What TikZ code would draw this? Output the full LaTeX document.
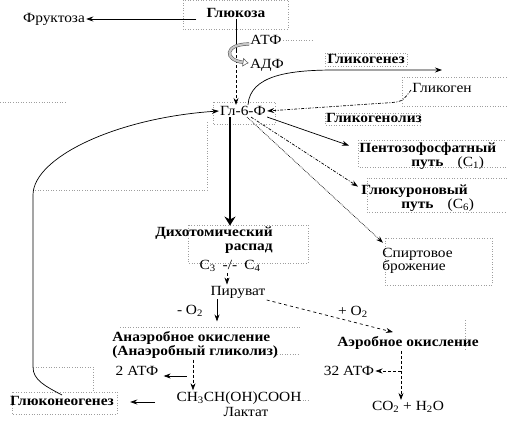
\documentclass[tikz,border=0pt]{standalone}
\usepackage{fontspec}
\setmainfont{Liberation Serif}[FakeStretch=1.1]
\usepackage{tikz}
\usetikzlibrary{positioning}
\usetikzlibrary{arrows}
\usetikzlibrary{arrows.meta}
\definecolor{framegray}{rgb}{0.62,0.62,0.62}

\begin{document}
\begin{tikzpicture}[
            x = 1pt, y = -1pt, % pixel grid, y downwards
            > = {Stealth[length=7pt,width=5pt]}, % arrow head style
            line width = 0.7pt,
            font = \fontsize{14}{13.5}\selectfont
        ]

        \tikzstyle{every node}=[inner sep = 1pt]
        \tikzstyle{bld}=[font = \fontsize{14}{13.5}\selectfont\bfseries]
        \tikzstyle{frame}=[draw = framegray, dotted, line width = 0.6pt]

        \useasboundingbox (0,0) rectangle (507,423);

        % text frames
        \foreach \a/\b in {{183,0}/{288,29}, {213,102}/{275,124}, {325,53}/{407,66},
                           {402,77}/{507,106}, {325,113}/{420,125}, {358,140}/{507,167},
                           {367,178}/{507,212}, {385,238}/{492,285}, {188,225}/{308,263},
                           {12,392}/{117,414}}
            \draw[frame] (\a) rectangle (\b);
        \draw[frame] (0,102) -- (67,102);
        \draw[frame] (207,122) -- (207,190) -- (33,190);
        \draw[frame] (33,367) -- (93,367) -- (93,392);
        \draw[frame] (120,327) -- (300,327);
        \draw[frame] (277,354) -- (300,354);
        \draw[frame] (300,400) -- (310,400);
        \draw[frame] (465,320) -- (465,350);
        \draw[frame] (283,40) -- (312,40);

        % upper level
        \node (fru) at (54,19) {Фруктоза};
        \node[bld] (glu) at (236,13) {Глюкоза};
        \node (atf) at (266,40) {АТФ};
        \node (adf) at (267,65) {АДФ};
        \node (g6f) at (243,111) {Гл-6-Ф};
        \coordinate (bend) at (236,50);
        \coordinate (gzend) at (442,70);

        \draw[->] ([xshift=-9pt,yshift=-6pt]glu.west) -- (fru.east);
        \draw (glu.south) -- (bend);
        \draw[densely dashed,->] (bend) -- (glu.south |- g6f.north);
        \draw[draw=black!70, line width=0.5pt, double=gray!45, double distance=2.2pt,
              -{Latex[open,length=6pt,width=9pt]}]
            ([yshift=-4pt]atf.west) .. controls (224,44) and (224,60) .. ([yshift=2pt]adf.west);

        % glycogen
        \node[bld] (glgz) at (366,59) {Гликогенез};
        \node (glgn) at (442,88) {Гликоген};
        \node[bld] (glgl) at (374,118) {Гликогенолиз};

        \draw[->] ([xshift=5pt]g6f.north) .. controls (250,75) and (290,70) .. (335,70) -- (gzend);
        \draw[dash pattern=on 3pt off 1.5pt on 1pt off 1.5pt,->]
            ([yshift=-2pt]glgn.west) .. controls (402,102) .. (385,103) -- (g6f.east);

        % side ways
        \node[bld, align=left, anchor=west] (pfp) at (358,156)
            {Пентозофосфатный\\\hspace*{52pt}путь\quad{\mdseries(C\textsubscript{1})}};
        \node[bld, align=left, anchor=west] (gkp) at (360,198)
            {Глюкуроновый\\\hspace*{40pt}путь\quad{\mdseries(C\textsubscript{6})}};
        \node[align=left, anchor=west] (spb) at (381,261) {Спиртовое\\брожение};

        \draw[->] (g6f.south east) -- ([shift={(-9,4)}]pfp.north west);
        \draw[dash pattern=on 3pt off 1.5pt on 1pt off 1.5pt,->]
            ([xshift=8pt]g6f.south) -- ([shift={(-2,3)}]gkp.north west);
        \draw[densely dotted,->] ([xshift=4pt]g6f.south) -- ([shift={(2,-4)}]spb.north west);

        % glycolysis
        \node[bld, align=right, anchor=east] (dix) at (274,240) {Дихотомический\\распад};
        \node (cc) at (230,266) {C\textsubscript{3}\enspace-/-\enspace C\textsubscript{4}};
        \node (pir) at (238,292) {Пируват};
        \node (mo2) at (190,311) {- O\textsubscript{2}};
        \node (po2) at (353,312) {+ O\textsubscript{2}};

        \draw[line width=2.5pt, -{Stealth[length=9pt,width=11pt]}]
            ([xshift=-13pt]g6f.south) -- ([xshift=-13pt]g6f.south |- dix.north);
        \draw[densely dashed,->] ([xshift=-3pt]cc.south) -- ([xshift=-3pt]cc.south |- pir.north);
        \draw[->] ([xshift=-21pt]pir.south) -- ++(0,22);

        % anaerobic branch
        \node[bld, align=left, anchor=west] (anae) at (111,345)
            {Анаэробное окисление\\(Анаэробный гликолиз)};
        \node (atf2) at (137,371) {2 АТФ};
        \node (lac) at (239,398) {CH\textsubscript{3}CH(OH)COOH};
        \node (lak) at (246,412) {Лактат};
        \node[bld] (gng) at (62,401) {Глюконеогенез};

        \draw[densely dashed,->] ([xshift=-46pt]lac.north |- anae.south) -- ([xshift=-46pt]lac.north);
        \draw[->] ([shift={(27,5)}]atf2.east) -- ([shift={(4,5)}]atf2.east);
        \draw[->] ([xshift=-20pt,yshift=-4pt]lac.west) -- ([xshift=15pt,yshift=-1pt]gng.east);
        \draw[->] (gng.north) .. controls (45,386) and (33,380) .. (33,367) -- (33,195)
            .. controls (33,158) and (115,118) .. (g6f.west);

        % aerobic branch
        \node[bld] (aer) at (408,343) {Аэробное окисление};
        \node (atf32) at (349,371) {32 АТФ};
        \node (co2) at (408,407) {CO\textsubscript{2} + H\textsubscript{2}O};

        \draw[dashed,->] ([yshift=-8pt]pir.east) -- ([shift={(-15,-3)}]aer.north);
        \draw[densely dashed,->] ([xshift=-7pt]aer.south) -- ([xshift=-7pt]aer.south |- co2.north);
        \draw[densely dashed,->] ([xshift=-7pt]aer.south |- atf32.east) -- (atf32.east);

\end{tikzpicture}
\end{document}
